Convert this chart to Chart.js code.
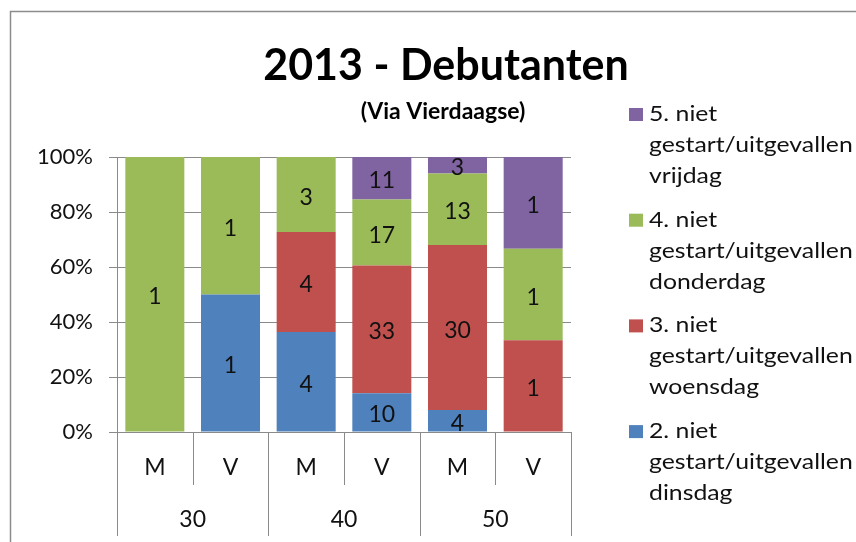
<!DOCTYPE html>
<html>
<head>
<meta charset="utf-8">
<script src="https://cdn.jsdelivr.net/npm/chart.js@4/dist/chart.umd.min.js"></script>
<style>
  body { margin:0; background:#fff; }
  #wrap { width:856px; height:542px; }
</style>
</head>
<body>
<div id="wrap"><canvas id="canvas1" width="856" height="542"></canvas></div>
<script>
// data (counts per bar)
var bars = ["M","V","M","V","M","V"];
var groups = ["30","40","50"];
var dinsdag   = [0, 1, 4, 10, 4, 0];
var woensdag  = [0, 0, 4, 33, 30, 1];
var donderdag = [1, 1, 3, 17, 13, 1];
var vrijdag   = [0, 0, 0, 11, 3, 1];
var names = ["2. niet gestart/uitgevallen dinsdag","3. niet gestart/uitgevallen woensdag",
  "4. niet gestart/uitgevallen donderdag","5. niet gestart/uitgevallen vrijdag"];
var colors = ["#4F81BD","#C0504D","#9BBB59","#8064A2"];

var FONT = "Lato, 'Liberation Sans', sans-serif";
var GRID = "#8a8a8a";

function toPercent(series, all){
  var out = [];
  for(var i=0;i<series.length;i++){
    var s = 0;
    for(var j=0;j<all.length;j++){ s += all[j][i]; }
    out.push(s ? series[i]/s*100 : 0);
  }
  return out;
}

var counts = [dinsdag, woensdag, donderdag, vrijdag];
var datasets = [];
for(var k=0;k<counts.length;k++){
  datasets.push({
    label: names[k],
    data: toPercent(counts[k], counts),
    counts: counts[k],
    backgroundColor: colors[k],
    borderWidth: 0,
    categoryPercentage: 1,
    barPercentage: 0.78
  });
}

// numbers inside the bar pieces
var valueLabels = {
  id: 'valueLabels',
  afterDatasetsDraw: function(chart){
    var ctx = chart.ctx;
    ctx.save();
    ctx.font = "23px " + FONT;
    ctx.fillStyle = "#111";
    ctx.textAlign = "center";
    ctx.textBaseline = "alphabetic";
    chart.data.datasets.forEach(function(ds, di){
      var meta = chart.getDatasetMeta(di);
      meta.data.forEach(function(el, i){
        if(!ds.counts[i]) return;
        ctx.fillText(String(ds.counts[i]), el.x, (el.y + el.base)/2 + 10);
      });
    });
    ctx.restore();
  }
};

// frame, title, two level x axis and legend
var extras = {
  id: 'extras',
  afterDraw: function(chart){
    var ctx = chart.ctx;
    var xs = chart.scales.x;
    var ca = chart.chartArea;
    ctx.save();

    // outer frame (only top and left visible)
    ctx.strokeStyle = "#8c8c8c";
    ctx.lineWidth = 1.5;
    ctx.beginPath();
    ctx.moveTo(10.5, chart.height);
    ctx.lineTo(10.5, 11.5);
    ctx.lineTo(chart.width, 11.5);
    ctx.stroke();

    // titles
    ctx.fillStyle = "#000";
    ctx.textAlign = "center";
    ctx.textBaseline = "alphabetic";
    ctx.font = "bold 43px " + FONT;
    ctx.fillText("2013 - Debutanten", 446, 80);
    ctx.font = "bold 23px " + FONT;
    ctx.fillText("(Via Vierdaagse)", 443, 119);

    // category dividers
    var n = bars.length;
    var w = (xs.right - xs.left) / n;
    ctx.strokeStyle = GRID;
    ctx.lineWidth = 1;
    for(var i=0;i<=n;i++){
      var x = Math.round(xs.left + i*w) + 0.5;
      var bottom = (i % 2 === 0) ? ca.bottom + 104 : ca.bottom + 53;
      ctx.beginPath();
      ctx.moveTo(x, ca.bottom);
      ctx.lineTo(x, bottom);
      ctx.stroke();
    }
    // group labels
    ctx.fillStyle = "#111";
    ctx.font = "23px " + FONT;
    for(var g=0;g<groups.length;g++){
      ctx.fillText(groups[g], xs.left + (2*g+1)*w, ca.bottom + 95);
    }

    // legend, reversed order, text a bit wider like the original
    var lx = 629, ly = 121;
    ctx.textAlign = "left";
    ctx.font = "21px " + FONT;
    for(var d=chart.data.datasets.length-1; d>=0; d--){
      var ds = chart.data.datasets[d];
      var parts = ds.label.split(" ");
      var lines = [parts[0] + " " + parts[1], parts[2], parts[3]];
      ctx.fillStyle = ds.backgroundColor;
      ctx.fillRect(lx, ly - 13, 14, 13);
      ctx.fillStyle = "#111";
      for(var l=0;l<lines.length;l++){
        ctx.save();
        ctx.translate(lx + 20, ly + l*31);
        ctx.scale(1.18, 1);
        ctx.fillText(lines[l], 0, 0);
        ctx.restore();
      }
      ly += 105.7;
    }
    ctx.restore();
  }
};

var myChart = new Chart(document.getElementById("canvas1"), {
  type: 'bar',
  data: { labels: bars, datasets: datasets },
  plugins: [valueLabels, extras],
  options: {
    responsive: false,
    animation: false,
    layout: { padding: { left: 10, right: 285, top: 157, bottom: 0 } },
    plugins: { legend: { display: false }, title: { display: false }, tooltip: { enabled: false } },
    scales: {
      x: {
        stacked: true,
        offset: true,
        grid: { display: false },
        border: { display: true, color: GRID },
        ticks: { color: "#111", font: { family: FONT, size: 23 }, padding: 14 },
        afterFit: function(s){ s.height = 110; }
      },
      y: {
        stacked: true,
        min: 0, max: 100,
        grid: { color: GRID, tickLength: 8 },
        border: { display: true, color: GRID },
        ticks: { stepSize: 20, color: "#111", padding: 16,
          font: { family: FONT, size: 22 },
          callback: function(v){ return v + "%"; } },
        afterFit: function(s){ s.width = 107; }
      }
    }
  }
});
</script>
</body>
</html>
